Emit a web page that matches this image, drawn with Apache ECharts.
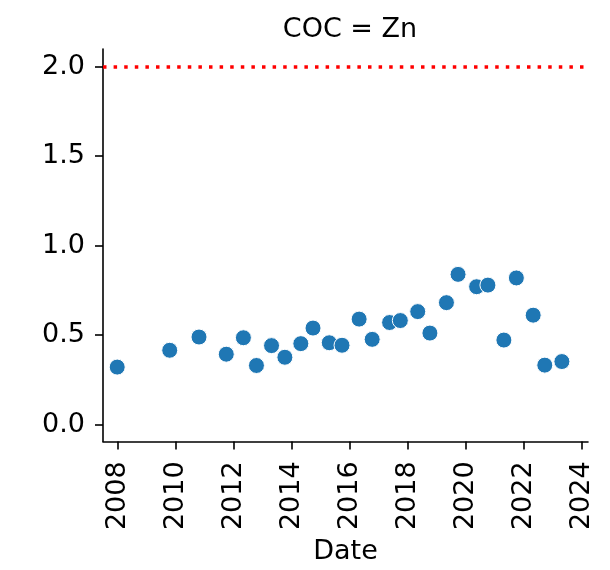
<!DOCTYPE html>
<html>
<head>
<meta charset="utf-8">
<script src="https://cdn.jsdelivr.net/npm/echarts@6/dist/echarts.min.js"></script>
<style>html,body{margin:0;padding:0;background:#fff}#c{width:610px;height:570px}</style>
</head>
<body>
<div id="c"></div>
<script>
const sampleYears = [2007.97, 2009.78, 2010.79, 2011.73, 2012.32, 2012.77, 2013.29, 2013.75, 2014.30, 2014.72,
  2015.28, 2015.72, 2016.31, 2016.76, 2017.36, 2017.73, 2018.33, 2018.75, 2019.32, 2019.72,
  2020.36, 2020.75, 2021.30, 2021.73, 2022.31, 2022.71, 2023.30];
const znValues = [0.321, 0.415, 0.489, 0.393, 0.485, 0.330, 0.441, 0.376, 0.452, 0.539,
  0.457, 0.443, 0.589, 0.476, 0.570, 0.581, 0.631, 0.511, 0.681, 0.839,
  0.770, 0.779, 0.472, 0.819, 0.611, 0.332, 0.352];
const xTicks = [2008, 2010, 2012, 2014, 2016, 2018, 2020, 2022, 2024];
const yTicks = [0.0, 0.5, 1.0, 1.5, 2.0];
const threshold = 2.0;
const titleText = 'COC = Zn';
const xName = 'Date';

const FONT = 'DejaVu Sans';
const FS = 27;
const chart = echarts.init(document.getElementById('c'), null, {renderer: 'canvas'});
const axisLineStyle = {color: '#000', width: 1.6};
chart.setOption({
  animation: false,
  backgroundColor: '#fff',
  title: {
    text: titleText, left: 345, top: 11, textAlign: 'center',
    textStyle: {fontFamily: FONT, fontSize: FS, fontWeight: 'normal', color: '#000'}
  },
  grid: {left: 103, right: 22, top: 49, bottom: 126, containLabel: false},
  xAxis: {
    type: 'value', min: 2007.48, max: 2024.2,
    name: xName, nameLocation: 'middle', nameGap: 94,
    nameTextStyle: {fontFamily: FONT, fontSize: FS, color: '#000'},
    axisLine: {show: true, onZero: false, lineStyle: axisLineStyle},
    axisTick: {show: true, length: 8, lineStyle: axisLineStyle, customValues: xTicks},
    axisLabel: {customValues: xTicks, rotate: 90, margin: 20, fontFamily: FONT, fontSize: FS, color: '#000',
      formatter: v => String(Math.round(v))},
    splitLine: {show: false}
  },
  yAxis: {
    type: 'value', min: -0.094, max: 2.098,
    axisLine: {show: true, onZero: false, lineStyle: axisLineStyle},
    axisTick: {show: true, length: 8, lineStyle: axisLineStyle, customValues: yTicks},
    axisLabel: {customValues: yTicks, margin: 18, fontFamily: FONT, fontSize: FS, color: '#000',
      formatter: v => v.toFixed(1)},
    splitLine: {show: false}
  },
  series: [{
    type: 'scatter',
    data: sampleYears.map((x, i) => [x, znValues[i]]),
    symbolSize: 16,
    itemStyle: {color: '#1f77b4', borderColor: '#fff', borderWidth: 1, opacity: 1},
    markLine: {
      silent: true, symbol: ['none', 'none'],
      label: {show: false},
      lineStyle: {color: '#ff0000', type: [3.5, 7.1], width: 3.5},
      data: [{yAxis: threshold}]
    }
  }]
});
</script>
</body>
</html>
